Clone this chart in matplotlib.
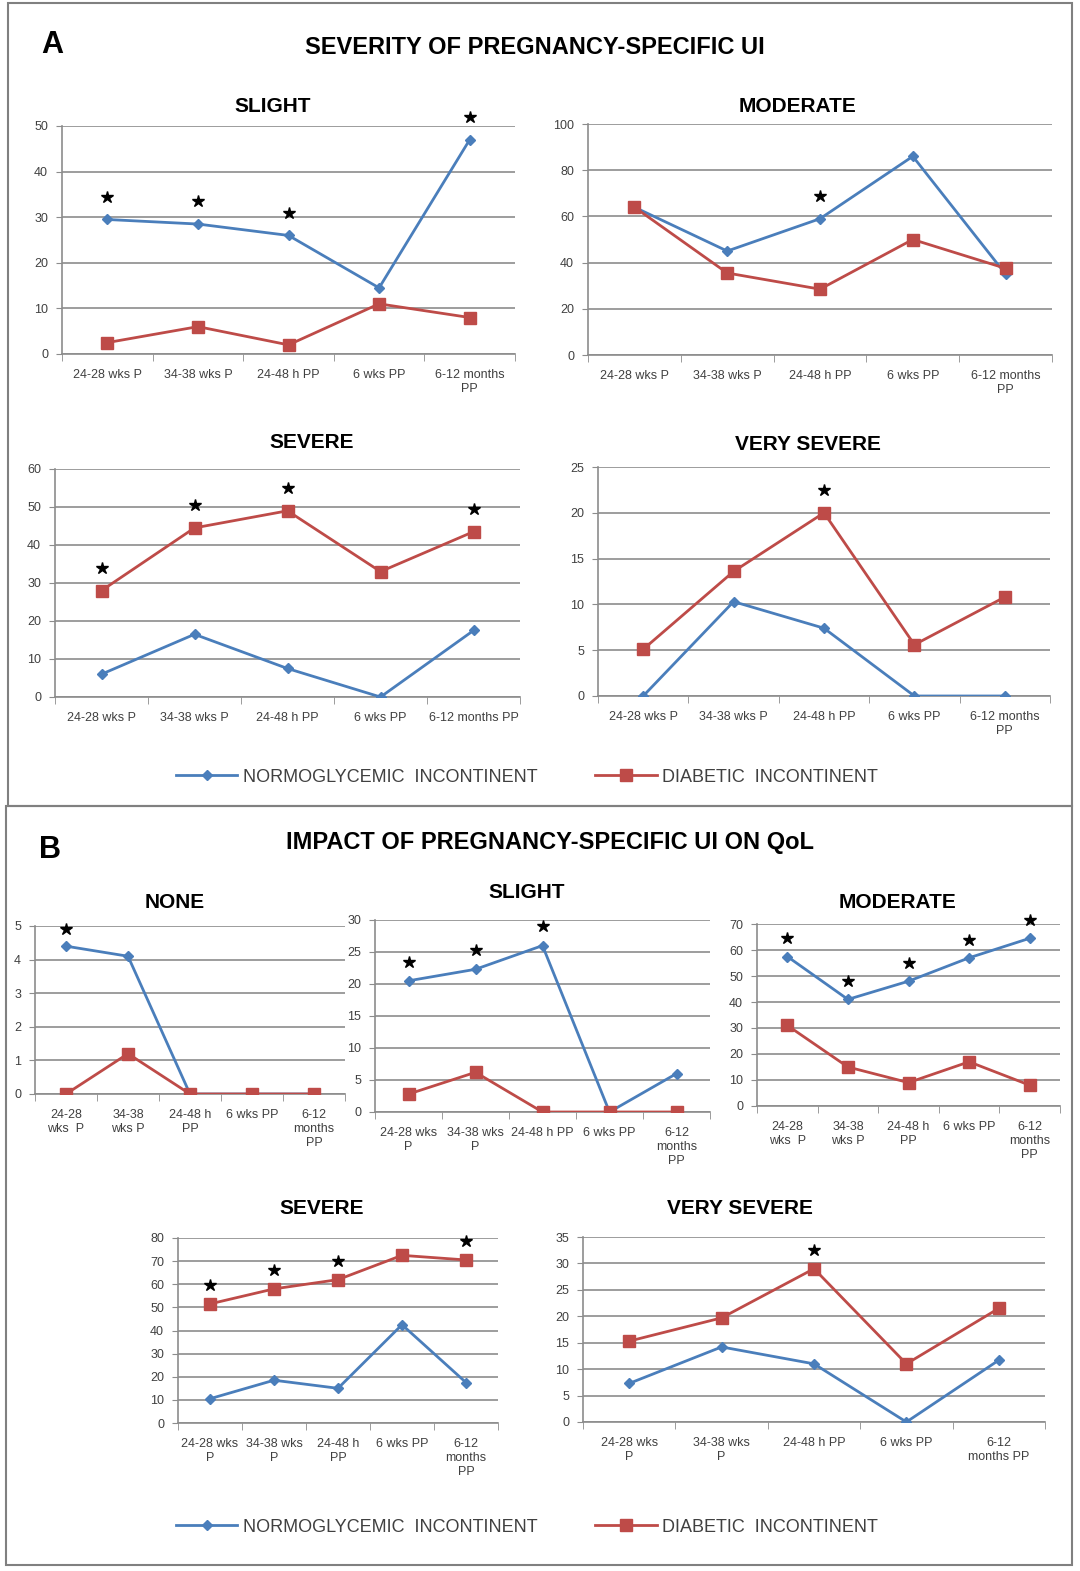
import numpy as np
import matplotlib
matplotlib.use('Agg')
import matplotlib.pyplot as plt
from matplotlib.patches import Rectangle

W, H = 1080, 1571

BLUE = '#4A7EBB'
RED = '#BE4B48'
GRID = '#8C8C8C'
TXT = '#404040'

# --- data (percent of incontinent women) ---
a_slight_norm = [29.5, 28.5, 26, 14.5, 47]
a_slight_diab = [2.5, 6, 2, 11, 8]
a_slight_star = [0, 1, 2, 4]

a_moderate_norm = [64, 45, 59, 86, 35]
a_moderate_diab = [64, 35.5, 28.5, 50, 37.5]
a_moderate_star = [2]

a_severe_norm = [6, 16.5, 7.5, 0, 17.5]
a_severe_diab = [28, 44.5, 49, 33, 43.5]
a_severe_star = [0, 1, 2, 4]

a_vsevere_norm = [0, 10.3, 7.4, 0, 0]
a_vsevere_diab = [5.1, 13.6, 20, 5.6, 10.8]
a_vsevere_star = [2]

b_none_norm = [4.4, 4.1, 0, 0, 0]
b_none_diab = [0, 1.2, 0, 0, 0]
b_none_star = [0]

b_slight_norm = [20.5, 22.3, 26, 0, 6]
b_slight_diab = [2.8, 6.2, 0, 0, 0]
b_slight_star = [0, 1, 2]

b_moderate_norm = [57.5, 41, 48, 57, 64.5]
b_moderate_diab = [31, 15, 9, 17, 8]
b_moderate_star = [0, 1, 2, 3, 4]

b_severe_norm = [10.5, 18.5, 15, 42.5, 17.5]
b_severe_diab = [51.5, 58, 62, 72.5, 70.5]
b_severe_star = [0, 1, 2, 4]

b_vsevere_norm = [7.3, 14.2, 11, 0, 11.7]
b_vsevere_diab = [15.3, 19.7, 29, 11, 21.5]
b_vsevere_star = [2]

lab_a1 = ['24-28 wks P', '34-38 wks P', '24-48 h PP', '6 wks PP', '6-12 months\nPP']
lab_a2 = ['24-28 wks P', '34-38 wks P', '24-48 h PP', '6 wks PP', '6-12 months PP']
lab_b1 = ['24-28\nwks  P', '34-38\nwks P', '24-48 h\nPP', '6 wks PP', '6-12\nmonths\nPP']
lab_b2 = ['24-28 wks\nP', '34-38 wks\nP', '24-48 h PP', '6 wks PP', '6-12\nmonths\nPP']
lab_b3 = ['24-28 wks\nP', '34-38 wks\nP', '24-48 h\nPP', '6 wks PP', '6-12\nmonths\nPP']
lab_b4 = ['24-28 wks\nP', '34-38 wks\nP', '24-48 h PP', '6 wks PP', '6-12\nmonths PP']

plt.rcParams['font.family'] = ['Liberation Sans', 'DejaVu Sans']

fig = plt.figure(figsize=(W / 100, H / 100), dpi=100)


def px_rect(x0, y0, x1, y1):
    return [x0 / W, 1 - y1 / H, (x1 - x0) / W, (y1 - y0) / H]


def draw_panel(box, title, tpos, norm, diab, stars, ymax, step, labels):
    ax = fig.add_axes(px_rect(*box))
    x = np.arange(len(norm))
    ln1, = ax.plot(x, norm, color=BLUE, lw=2, marker='D', ms=5, zorder=3)
    ln2, = ax.plot(x, diab, color=RED, lw=2, marker='s', ms=8, zorder=3)
    for i in stars:
        ax.plot(i, max(norm[i], diab[i]) + 0.1 * ymax, marker='*', color='black',
                ms=9, ls='none', zorder=4, clip_on=False)
    ax.set_xlim(-0.5, len(norm) - 0.5)
    ax.set_ylim(0, ymax)
    ax.set_yticks(np.arange(0, ymax + step / 2, step))
    ax.set_xticks(x, labels)
    ax.set_xticks(np.arange(-0.5, len(norm)), minor=True)
    ax.tick_params(axis='x', which='major', length=0, pad=11, labelsize=9, labelcolor=TXT)
    ax.tick_params(axis='x', which='minor', length=5, color=GRID, direction='out')
    ax.tick_params(axis='y', length=4, color=GRID, labelsize=9, labelcolor=TXT, pad=6)
    ax.grid(axis='y', color=GRID, lw=1.2)
    ax.set_axisbelow(True)
    for s in ['top', 'right']:
        ax.spines[s].set_visible(False)
    for s in ['left', 'bottom']:
        ax.spines[s].set_color(GRID)
        ax.spines[s].set_linewidth(1.2)
    fig.text(tpos[0] / W, 1 - tpos[1] / H, title, ha='center', va='center',
             fontsize=15, fontweight='bold')
    return ln1, ln2


# --- panel A ---
handles = draw_panel((62, 126, 515, 354), 'SLIGHT', (273, 107), a_slight_norm, a_slight_diab,
                     a_slight_star, 50, 10, lab_a1)
draw_panel((588, 124, 1052, 355), 'MODERATE', (797, 106), a_moderate_norm, a_moderate_diab,
           a_moderate_star, 100, 20, lab_a1)
draw_panel((55, 469, 520, 697), 'SEVERE', (312, 443), a_severe_norm, a_severe_diab,
           a_severe_star, 60, 10, lab_a2)
draw_panel((598, 467, 1050, 696), 'VERY SEVERE', (808, 444), a_vsevere_norm, a_vsevere_diab,
           a_vsevere_star, 25, 5, lab_a1)

# --- panel B ---
draw_panel((35, 926, 345, 1094), 'NONE', (175, 902), b_none_norm, b_none_diab,
           b_none_star, 5, 1, lab_b1)
draw_panel((375, 920, 710, 1112), 'SLIGHT', (527, 893), b_slight_norm, b_slight_diab,
           b_slight_star, 30, 5, lab_b2)
draw_panel((757, 924, 1060, 1106), 'MODERATE', (898, 902), b_moderate_norm, b_moderate_diab,
           b_moderate_star, 70, 10, lab_b1)
draw_panel((178, 1238, 498, 1423), 'SEVERE', (322, 1209), b_severe_norm, b_severe_diab,
           b_severe_star, 80, 10, lab_b3)
draw_panel((583, 1237, 1045, 1422), 'VERY SEVERE', (740, 1209), b_vsevere_norm, b_vsevere_diab,
           b_vsevere_star, 35, 5, lab_b4)

# boxes, headers, legends
for (x0, y0, x1, y1) in [(8, 3, 1072, 806), (6, 806, 1072, 1565)]:
    fig.patches.append(Rectangle((x0 / W, 1 - y1 / H), (x1 - x0) / W, (y1 - y0) / H,
                                 transform=fig.transFigure, fill=False,
                                 edgecolor='#808080', lw=1.5))

fig.text(52 / W, 1 - 45 / H, 'A', fontsize=22, fontweight='bold', ha='center', va='center')
fig.text(535 / W, 1 - 47 / H, 'SEVERITY OF PREGNANCY-SPECIFIC UI', fontsize=17,
         fontweight='bold', ha='center', va='center')
fig.text(50 / W, 1 - 850 / H, 'B', fontsize=22, fontweight='bold', ha='center', va='center')
fig.text(550 / W, 1 - 842 / H, 'IMPACT OF PREGNANCY-SPECIFIC UI ON QoL', fontsize=17,
         fontweight='bold', ha='center', va='center')

names = ['NORMOGLYCEMIC  INCONTINENT', 'DIABETIC  INCONTINENT']
for yc in [777, 1527]:
    fig.legend(handles, names, loc='center', bbox_to_anchor=(527 / W, 1 - yc / H), ncol=2,
               frameon=False, fontsize=13, handlelength=3.4, handletextpad=0.3,
               columnspacing=3.2, labelcolor=TXT)

fig.savefig('out.png', dpi=100)
